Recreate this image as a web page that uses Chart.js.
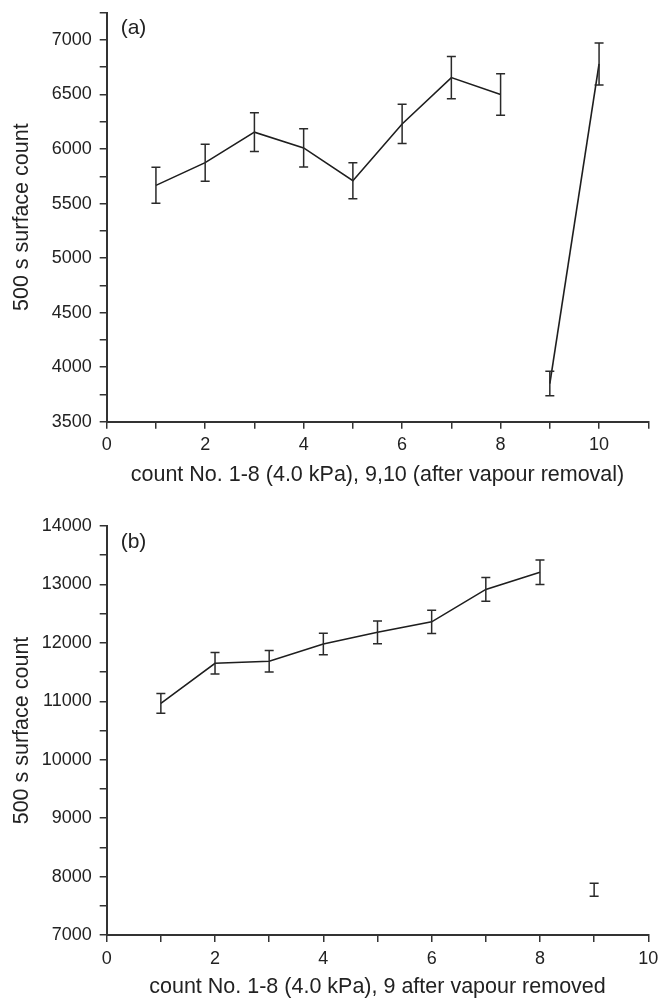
<!DOCTYPE html>
<html>
<head>
<meta charset="utf-8">
<title>500 s surface count</title>
<script src="https://cdn.jsdelivr.net/npm/chart.js@4.4.1/dist/chart.umd.min.js"></script>
<style>
  html, body { margin: 0; padding: 0; background: #fff; }
  canvas { position: absolute; left: 0; }
  #chartA { top: 0; }
  #chartB { top: 500px; }
</style>
</head>
<body>
<canvas id="chartA" width="662" height="500"></canvas>
<canvas id="chartB" width="662" height="498"></canvas>
<script>
// Panel (a): counts 1-8 at 4.0 kPa, 9-10 after vapour removal
const countsA = [1, 2, 3, 4, 5, 6, 7, 8, 9, 10];
const valuesA = [5667, 5875, 6155, 6010, 5710, 6230, 6655, 6500, 3850, 6780];
const errorsA = [165, 170, 177, 175, 165, 180, 193, 190, 112, 193];
const xLabelsA = [0, 2, 4, 6, 8, 10];
const yLabelsA = [3500, 4000, 4500, 5000, 5500, 6000, 6500, 7000];

// Panel (b): counts 1-8 at 4.0 kPa, 9 after vapour removed
const countsB = [1, 2, 3, 4, 5, 6, 7, 8, 9];
const valuesB = [10965, 11650, 11685, 11980, 12180, 12360, 12915, 13210, 7775];
const errorsB = [170, 185, 185, 184, 196, 200, 204, 210, 110];
const xLabelsB = [0, 2, 4, 6, 8, 10];
const yLabelsB = [7000, 8000, 9000, 10000, 11000, 12000, 13000, 14000];

const FONT = '"Liberation Sans", Arial, Helvetica, sans-serif';
const INK = '#222';
const AXIS = '#333';

// draws the symmetric error bars from each dataset's "errors" list
const errorBars = {
  id: 'errorBars',
  afterDatasetsDraw(chart) {
    const { ctx, scales: { x, y } } = chart;
    ctx.save();
    ctx.strokeStyle = '#2a2a2a';
    ctx.lineWidth = 1.5;
    chart.data.datasets.forEach(ds => {
      (ds.errors || []).forEach((e, i) => {
        const p = ds.data[i];
        const px = x.getPixelForValue(p.x);
        const top = y.getPixelForValue(p.y + e);
        const bot = y.getPixelForValue(p.y - e);
        ctx.beginPath();
        ctx.moveTo(px, top); ctx.lineTo(px, bot);
        ctx.moveTo(px - 4.5, top); ctx.lineTo(px + 4.5, top);
        ctx.moveTo(px - 4.5, bot); ctx.lineTo(px + 4.5, bot);
        ctx.stroke();
      });
    });
    ctx.restore();
  }
};

// "(a)" / "(b)" in the upper left corner of the plot
const panelLabel = {
  id: 'panelLabel',
  afterDraw(chart, args, opts) {
    const { ctx, chartArea } = chart;
    ctx.save();
    ctx.font = '21px ' + FONT;
    ctx.fillStyle = INK;
    ctx.textBaseline = 'middle';
    ctx.fillText(opts.text, chartArea.left + 14, chartArea.top + 16);
    ctx.restore();
  }
};

function points(xs, ys, from, to) {
  const out = [];
  for (let i = from; i < to; i++) out.push({ x: xs[i], y: ys[i] });
  return out;
}

function lineSet(xs, ys, errs, from, to, showLine) {
  return {
    data: points(xs, ys, from, to),
    errors: errs.slice(from, to),
    borderColor: '#1e1e1e',
    borderWidth: 1.6,
    pointRadius: 0,
    showLine: showLine,
    tension: 0
  };
}

function makePanel(id, cfg) {
  const tickFont = { family: FONT, size: 18 };
  const titleFont = { family: FONT, size: 21.5 };
  new Chart(document.getElementById(id), {
    type: 'scatter',
    data: { datasets: cfg.datasets },
    options: {
      responsive: false,
      animation: false,
      layout: { padding: { top: cfg.top, right: 13.7, left: 0, bottom: 0 } },
      plugins: {
        legend: { display: false },
        tooltip: { enabled: false },
        panelLabel: { text: cfg.label }
      },
      scales: {
        x: {
          type: 'linear',
          min: cfg.xMin, max: cfg.xMax,
          border: { display: true, color: AXIS, width: 2 },
          grid: { drawOnChartArea: false, color: AXIS, lineWidth: 1.5, tickLength: 7 },
          ticks: {
            stepSize: 1, autoSkip: false, maxRotation: 0, padding: 6,
            color: INK, font: tickFont,
            callback: v => cfg.xLabels.includes(v) ? String(v) : ''
          },
          title: {
            display: true, text: cfg.xTitle, color: INK, font: titleFont,
            padding: { top: 0, bottom: cfg.xTitlePad }
          },
          afterFit: s => {
            s.height = cfg.xHeight;
            s.paddingLeft = 0; s.paddingRight = 0;
          }
        },
        y: {
          type: 'linear',
          min: cfg.yMin, max: cfg.yMax,
          border: { display: true, color: AXIS, width: 2 },
          grid: { drawOnChartArea: false, color: AXIS, lineWidth: 1.5, tickLength: 7 },
          ticks: {
            stepSize: cfg.yStep, autoSkip: false, padding: 8,
            color: INK, font: tickFont,
            callback: v => cfg.yLabels.includes(v) ? String(v) : ''
          },
          title: {
            display: true, text: '500 s surface count', color: INK, font: titleFont,
            padding: { top: 9, bottom: 0 }
          },
          afterFit: s => {
            s.width = 106.7;
            s.paddingTop = 0; s.paddingBottom = 0;
          }
        }
      }
    },
    plugins: [errorBars, panelLabel]
  });
}

makePanel('chartA', {
  label: '(a)',
  top: 12.7,
  xHeight: 78.3,
  xTitlePad: 12,
  xMin: 0, xMax: 11,
  yMin: 3500, yMax: 7250, yStep: 250,
  xLabels: xLabelsA, yLabels: yLabelsA,
  xTitle: 'count No. 1-8 (4.0 kPa), 9,10 (after vapour removal)',
  datasets: [
    lineSet(countsA, valuesA, errorsA, 0, 8, true),
    lineSet(countsA, valuesA, errorsA, 8, 10, true)
  ]
});

makePanel('chartB', {
  label: '(b)',
  top: 26,
  xHeight: 63,
  xTitlePad: -2,
  xMin: 0, xMax: 10,
  yMin: 7000, yMax: 14000, yStep: 500,
  xLabels: xLabelsB, yLabels: yLabelsB,
  xTitle: 'count No. 1-8 (4.0 kPa), 9 after vapour removed',
  datasets: [
    lineSet(countsB, valuesB, errorsB, 0, 8, true),
    lineSet(countsB, valuesB, errorsB, 8, 9, false)
  ]
});
</script>
</body>
</html>
